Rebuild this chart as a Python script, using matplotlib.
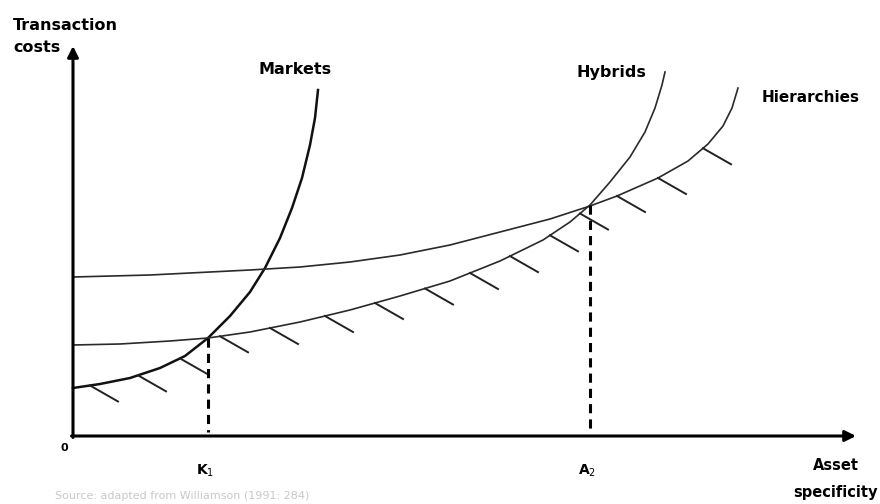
import numpy as np
import matplotlib.pyplot as plt

# data coords: origin at the axes corner, x = asset specificity, y = transaction costs
markets_x = [0, 27, 57, 87, 112, 135, 157, 177, 192, 207, 219, 229, 237, 242, 245]
markets_y = [48, 52, 58, 68, 80, 98, 120, 144, 168, 198, 228, 258, 291, 318, 346]

hybrids_x = [0, 47, 97, 135, 177, 227, 277, 327, 377, 427, 470, 497, 517, 537, 557, 572, 582, 589, 592]
hybrids_y = [91, 92, 95, 98, 104, 114, 126, 140, 155, 175, 196, 214, 231, 254, 279, 304, 328, 351, 364]

hier_x = [0, 77, 177, 227, 277, 327, 377, 427, 477, 517, 544, 585, 615, 635, 650, 659, 665]
hier_y = [159, 161, 166, 169, 174, 181, 191, 204, 217, 230, 240, 258, 275, 292, 310, 328, 348]

# hatch marks along the lower envelope
hatch_markets = [17, 65, 107]
hatch_hybrids = [147, 197, 252, 302, 352, 397, 437, 477, 507]
hatch_hier = [544, 585, 630]

# switch points K1 and A2
switch_x = [135, 517]
switch_labels = ['K$_1$', 'A$_2$']

fig = plt.figure(figsize=(8.8, 5.04), dpi=100)
ax = fig.add_axes([0, 0, 1, 1])
ax.set_xlim(-73, 807)
ax.set_ylim(-68, 436)
ax.axis('off')

# axes with arrows
ax.annotate('', xy=(783, 0), xytext=(-1.5, 0),
            arrowprops=dict(arrowstyle='-|>', lw=2.2, color='black', mutation_scale=16, shrinkA=0, shrinkB=0))
ax.annotate('', xy=(0, 390), xytext=(0, -1.5),
            arrowprops=dict(arrowstyle='-|>', lw=2.2, color='black', mutation_scale=16, shrinkA=0, shrinkB=0))

ax.plot(markets_x, markets_y, color='#111111', lw=1.8)
ax.plot(hybrids_x, hybrids_y, color='#2a2a2a', lw=1.2)
ax.plot(hier_x, hier_y, color='#2a2a2a', lw=1.2)

dx, dy = 28, -16
for xs, cx, cy in [(hatch_markets, markets_x, markets_y),
                   (hatch_hybrids, hybrids_x, hybrids_y),
                   (hatch_hier, hier_x, hier_y)]:
    for hx in xs:
        hy = np.interp(hx, cx, cy)
        ax.plot([hx, hx + dx], [hy, hy + dy], color='#222222', lw=1.4)

for sx, lab in zip(switch_x, switch_labels):
    sy = np.interp(sx, hybrids_x, hybrids_y)
    ax.plot([sx, sx], [sy, 4], color='black', lw=2.2, linestyle=(0, (3, 2)))
    ax.text(sx - 3, -35, lab, ha='center', va='center', fontsize=10, fontweight='bold',
            family='DejaVu Sans')

font = dict(family='DejaVu Sans', fontweight='bold', fontsize=11.5)
ax.text(-60, 411, 'Transaction', ha='left', va='center', **font)
ax.text(-60, 388, 'costs', ha='left', va='center', **font)
ax.text(185, 366, 'Markets', ha='left', va='center', **font)
ax.text(503, 364, 'Hybrids', ha='left', va='center', **font)
ax.text(689, 339, 'Hierarchies', ha='left', va='center', fontsize=11,
        family='DejaVu Sans', fontweight='bold')
ax.text(-9, -12, '0', ha='center', va='center', family='DejaVu Sans', fontweight='bold', fontsize=8)
ax.text(763, -30, 'Asset', ha='center', va='center', fontsize=10.5,
        family='DejaVu Sans', fontweight='bold')
ax.text(763, -56, 'specificity', ha='center', va='center', fontsize=10.5,
        family='DejaVu Sans', fontweight='bold')
ax.text(-18, -60, 'Source: adapted from Williamson (1991: 284)', ha='left', va='center',
        family='DejaVu Sans', fontsize=8, color='#c8c8c8')

fig.savefig('out.png', dpi=100)
